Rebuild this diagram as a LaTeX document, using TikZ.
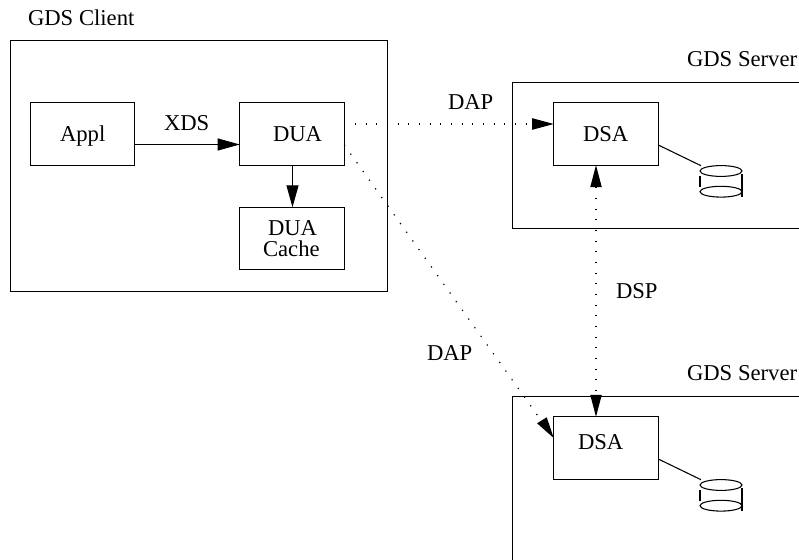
\documentclass[tikz,border=0pt]{standalone}
\usepackage{fontspec}
\setmainfont{Liberation Serif}
\usetikzlibrary{arrows.meta,calc}
\newcommand{\pxu}{0.75pt}
\tikzset{
  x=0.75pt,y=-0.75pt,
  boxn/.style={draw=black,line width=0.8pt,rectangle,inner sep=0pt,outer sep=0pt,minimum width=78.4pt,minimum height=46.8pt},
  framen/.style={draw=black,line width=0.8pt,rectangle,inner sep=0pt,outer sep=0pt},
  lab/.style={inner sep=0pt,outer sep=0pt,anchor=base west,font=\fontsize{17}{19}\selectfont},
  tip/.style={-{Triangle[length=16.5pt,width=9pt]}},
  solidc/.style={draw=black,line width=0.8pt,tip},
  dotc/.style={draw=black,line width=0.9pt,dash pattern=on 0.9pt off 7.1pt},
}
\begin{document}
\begin{tikzpicture}
\useasboundingbox (0,0) rectangle (799,560);
\clip (0,0) rectangle (799,560);
% frames
\node[framen,minimum width=282.75pt,minimum height=188.25pt] (client) at (199,166) {};
\node[framen,minimum width=240pt,minimum height=109.5pt] (srvA) at (672.5,155.5) {};
\node[framen,minimum width=240pt,minimum height=180pt] (srvB) at (672.5,516.5) {};
% boxes
\node[boxn] (appl) at (82.5,134) {};
\node[boxn] (dua) at (292,134) {};
\node[boxn] (cache) at (292,238.5) {};
\node[boxn] (dsaA) at (606,134) {};
\node[boxn] (dsaB) at (606,448) {};
% texts
\node[lab] (tclient) at (28,26) {GDS Client};
\node[lab] (tsrvA) at (687,67) {GDS Server};
\node[lab] (tsrvB) at (687,380) {GDS Server};
\node[lab] (tappl) at (60,141.7) {Appl};
\node[lab] (txds) at (164,130) {XDS};
\node[lab] (tdua) at (273,141.7) {DUA};
\node[lab] (tcache1) at (268,235) {DUA};
\node[lab] (tcache2) at (263,256) {Cache};
\node[lab] (tdsaA) at (583,141) {DSA};
\node[lab] (tdsaB) at (578,449) {DSA};
\node[lab] (tdapA) at (448,109) {DAP};
\node[lab] (tdapB) at (427,360) {DAP};
\node[lab] (tdsp) at (616,298) {DSP};
% solid connectors
\draw[solidc] ([yshift=-10.5*\pxu]appl.east) -- ([yshift=-10.5*\pxu]dua.west);
\draw[solidc] ([xshift=0.5*\pxu]dua.south) -- ([xshift=0.5*\pxu]cache.north);
% dotted connectors
\draw[dotc] ([yshift=10*\pxu]dua.east) -- ([yshift=10*\pxu,xshift=-22*\pxu]dsaA.west);
\fill[black] ([yshift=10*\pxu]dsaA.west) -- ++(-21.5,-5.8) -- ++(0,11.6) -- cycle;
\coordinate (dapBs) at ([yshift=-11*\pxu]dua.east);
\coordinate (dapBe) at ([yshift=10*\pxu]dsaB.west);
\draw[dotc] (dapBs) -- ($(dapBs)!0.93!(dapBe)$);
\fill[black] (dapBe) -- ++(-16.7,-14.7) -- ++(9.7,-6) -- cycle;
\coordinate (dspT) at ([xshift=-10*\pxu]dsaA.south);
\coordinate (dspB) at ([xshift=-10*\pxu]dsaB.north);
\draw[dotc] ([yshift=-22*\pxu]dspT) -- ([yshift=22*\pxu]dspB);
\fill[black] (dspT) -- ++(-5.8,22) -- ++(11.6,0) -- cycle;
\fill[black] (dspB) -- ++(-5.8,-22) -- ++(11.6,0) -- cycle;
% databases
\foreach \b/\dy in {dsaA/0,dsaB/314}{
  \draw[black,line width=0.8pt] ([yshift=-11*\pxu]\b.east) -- (701,165.7+\dy);
  \draw[black,line width=0.8pt] (721,171+\dy) ellipse [x radius=21,y radius=5.4];
  \draw[black,line width=0.8pt] (721,191.7+\dy) ellipse [x radius=21,y radius=5.4];
  \draw[black,line width=0.8pt] (700,176+\dy) -- (700,187+\dy);
  \draw[black,line width=0.8pt] (742,174+\dy) -- (742,197+\dy);
}
\end{tikzpicture}
\end{document}
